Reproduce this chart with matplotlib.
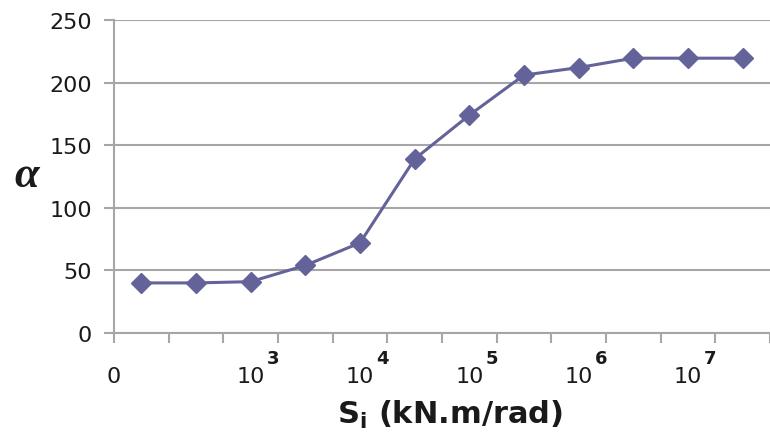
import numpy as np
import matplotlib
matplotlib.use("Agg")
import matplotlib.pyplot as plt

# alpha against joint stiffness Si (Excel-style category axis)
alpha = [40, 40, 41, 54, 72, 139, 174, 206, 212, 219.5, 219.5, 219.5]
tick_labels = {0: "0", 3: "3", 5: "4", 7: "5", 9: "6", 11: "7"}   # boundary index -> exponent

LINE = "#63639a"
GRID = "#a6a6a6"
TXT = "#1a1a1a"

plt.rcParams["font.family"] = ["DejaVu Sans"]

fig = plt.figure(figsize=(7.7, 4.35), dpi=100)
ax = fig.add_axes([114/770, 1 - 334/435, 1 - 114/770, (334 - 21)/435])

x = np.arange(len(alpha)) + 0.5
ax.plot(x, alpha, color=LINE, lw=2.2, marker="D", ms=10, mfc=LINE, mec=LINE, zorder=3)

ax.set_xlim(0, (770 - 114) / 55.3)
ax.set_ylim(0, 250)
ax.set_yticks(range(0, 251, 50))
ax.yaxis.grid(True, color=GRID, lw=1.5)
ax.set_axisbelow(True)
for s in ("top", "right"):
    ax.spines[s].set_visible(False)
for s in ("left", "bottom"):
    ax.spines[s].set_color(GRID)
    ax.spines[s].set_linewidth(1.5)

ax.tick_params(axis="y", length=7, width=1.5, color=GRID, pad=9, labelsize=16, labelcolor=TXT)
ax.set_xticks(range(0, len(alpha) + 1))
ax.set_xticklabels([])
ax.tick_params(axis="x", length=7, width=1.5, color=GRID)

# x labels: "0" centred, 10^n with superscript ending at the tick
for pos, e in tick_labels.items():
    if e == "0":
        ax.annotate("0", (pos, 0), xycoords=("data", "axes fraction"), xytext=(0, -49),
                    textcoords="offset pixels", ha="center", va="baseline", fontsize=16, color=TXT)
    else:
        ax.annotate("10", (pos, 0), xycoords=("data", "axes fraction"), xytext=(-13, -49),
                    textcoords="offset pixels", ha="right", va="baseline", fontsize=16, color=TXT)
        ax.annotate(e, (pos, 0), xycoords=("data", "axes fraction"), xytext=(1, -30),
                    textcoords="offset pixels", ha="right", va="baseline", fontsize=13,
                    fontweight="bold", color=TXT)

fig.text(450/770, 1 - 415/435, r"S$_\mathregular{i}$ (kN.m/rad)", ha="center", va="center",
         fontsize=22, fontweight="bold", color=TXT)
fig.text(27/770, 1 - 176/435, "α", ha="center", va="center", fontsize=32,
         family="Liberation Serif", style="italic", fontweight="bold", color=TXT)

fig.savefig("out.png", dpi=100)
